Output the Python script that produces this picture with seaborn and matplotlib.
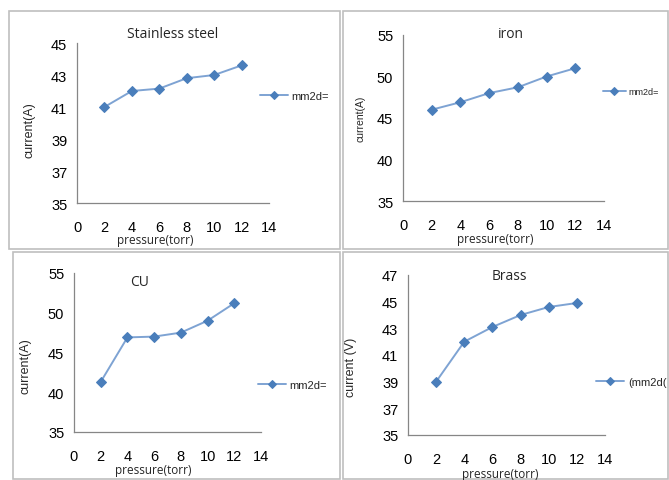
import matplotlib
matplotlib.use("Agg")
import matplotlib.pyplot as plt
import seaborn as sns
import pandas as pd
from matplotlib.patches import Rectangle

pressure = [2, 4, 6, 8, 10, 12]
stainless = [41.0, 42.0, 42.15, 42.8, 43.0, 43.6]
iron = [46.0, 46.9, 48.0, 48.7, 50.0, 51.0]
cu = [41.3, 46.9, 47.0, 47.5, 49.0, 51.2]
brass = [39.0, 42.0, 43.1, 44.0, 44.6, 44.9]

titles = ["Stainless steel", "iron", "CU", "Brass"]
ylabels = ["current(A)", "current(A)", "current(A)", "current (V)"]
legend_labels = ["mm2d=", "mm2d=", "mm2d=", "(mm2d("]
xticks = [0, 2, 4, 6, 8, 10, 12, 14]
yticks_list = [[35, 37, 39, 41, 43, 45], [35, 40, 45, 50, 55],
               [35, 40, 45, 50, 55], [35, 37, 39, 41, 43, 45, 47]]

sns.set_style("white")
plt.rcParams['font.family'] = ['Liberation Sans', 'DejaVu Sans']

W, H = 669, 481
fig = plt.figure(figsize=(W / 100, H / 100), dpi=100)

def fx(x):
    return x / W

def fy(y):
    return 1 - y / H

# panel borders (pixel boxes: x0, y0, x1, y1)
borders = [(9, 12, 340, 250), (343, 12, 668, 250), (13, 253, 340, 480), (343, 253, 668, 480)]
for (x0, y0, x1, y1) in borders:
    fig.patches.append(Rectangle((fx(x0), fy(y1)), fx(x1 - x0), (y1 - y0) / H,
                                 transform=fig.transFigure, fill=False,
                                 edgecolor="#BFBFBF", linewidth=1.2))

# axes boxes in pixels (x0, y_top, x1, y_bottom)
axboxes = [(77, 44, 269, 204), (403, 36, 604, 202), (74, 274, 261, 433), (408, 276, 605, 436)]
series = [stainless, iron, cu, brass]
title_pos = [(173, 34), (511, 34), (140, 282), (509, 276)]
ylabel_pos = [(29, 130), (360, 119), (25, 366), (351, 367)]
ylabel_size = [9, 7.5, 9, 9]
xlabel_pos = [(155, 241), (495, 239), (153, 471), (500, 475)]
legend_pos = [(254, 97), (598, 93), (252, 386), (590, 383)]
legend_size = [8, 6.5, 8, 8]

for i in range(4):
    x0, yt, x1, yb = axboxes[i]
    ax = fig.add_axes([fx(x0), fy(yb), fx(x1 - x0), (yb - yt) / H])
    df = pd.DataFrame({"pressure": pressure, "value": series[i]})
    sns.lineplot(data=df, x="pressure", y="value", ax=ax, color="#7EA3D3",
                 linewidth=1.4, marker="D", markersize=5.5,
                 markerfacecolor="#4A7EBB", markeredgecolor="#4A7EBB",
                 label=legend_labels[i])
    ax.set_xlim(0, 14)
    yt_list = yticks_list[i]
    ax.set_ylim(yt_list[0], yt_list[-1])
    ax.set_xticks(xticks)
    ax.set_yticks(yt_list)
    ax.set_xlabel("")
    ax.set_ylabel("")
    for s in ["top", "right"]:
        ax.spines[s].set_visible(False)
    for s in ["left", "bottom"]:
        ax.spines[s].set_color("#868686")
        ax.spines[s].set_linewidth(0.9)
    ax.tick_params(axis="both", direction="out", length=4, width=0.9,
                   color="#868686", labelsize=10.5, labelcolor="#000000")
    ax.tick_params(axis="x", pad=8)
    ax.tick_params(axis="y", pad=3)
    ax.set_facecolor("none")
    leg = ax.legend(loc="center left", bbox_to_anchor=(fx(legend_pos[i][0]), fy(legend_pos[i][1])),
                    bbox_transform=fig.transFigure, frameon=False, handlelength=2.6,
                    handletextpad=0.3, borderpad=0, fontsize=legend_size[i], markerscale=0.8)
    tx, ty = title_pos[i]
    fig.text(fx(tx), fy(ty), titles[i], ha="center", va="center", fontsize=10,
             family=["Open Sans", "DejaVu Sans"])
    lx, ly = ylabel_pos[i]
    fig.text(fx(lx), fy(ly), ylabels[i], ha="center", va="center", rotation=90,
             fontsize=ylabel_size[i])
    px, py = xlabel_pos[i]
    fig.text(fx(px), fy(py), "pressure(torr)", ha="center", va="center", fontsize=8.5,
             family=["Open Sans", "DejaVu Sans"])

fig.savefig("out.png", dpi=100)
